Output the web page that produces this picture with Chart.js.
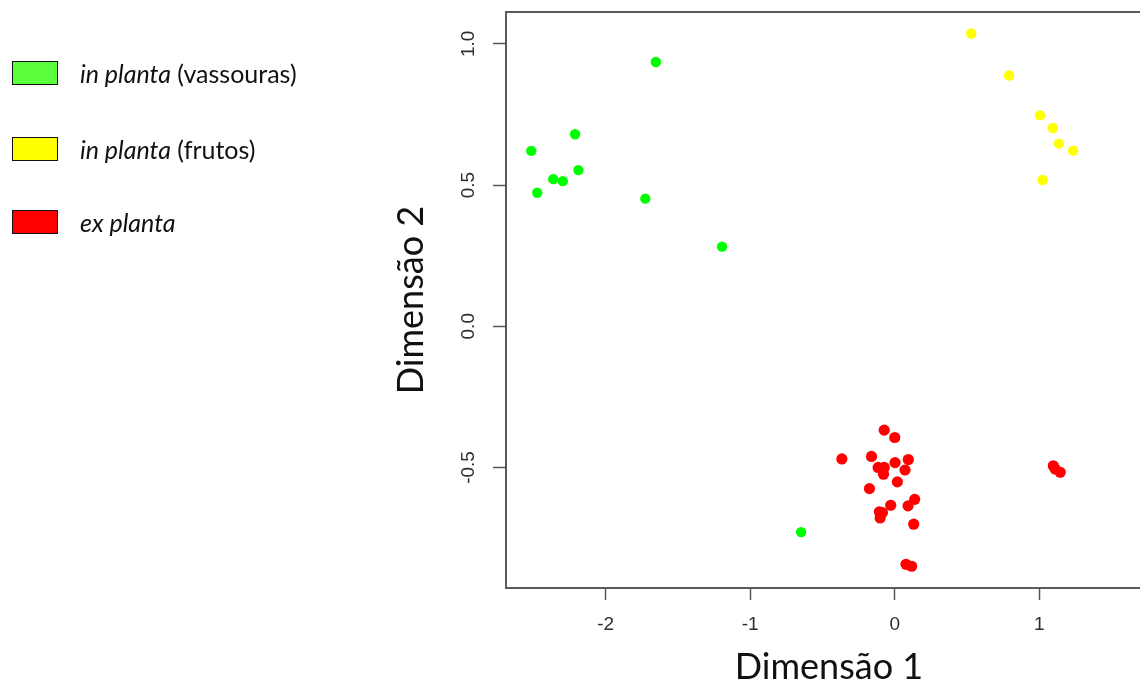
<!DOCTYPE html>
<html>
<head>
<meta charset="utf-8">
<script src="https://cdn.jsdelivr.net/npm/chart.js@4.4.0/dist/chart.umd.min.js"></script>
<style>
  html, body { margin: 0; padding: 0; width: 1140px; height: 685px; overflow: hidden; background: #fff; }
  #wrap { position: absolute; left: 0; top: 0; width: 1158px; height: 685px; }
  .legend { position: absolute; left: 0; top: 0; font-family: Lato, sans-serif; font-size: 25px; color: #111; }
  .legend .row { position: absolute; left: 12px; display: flex; align-items: center; white-space: nowrap; height: 26px; }
  .legend .box { width: 44px; height: 22px; border: 1.5px solid #111; margin-right: 22px; flex: none; }
</style>
</head>
<body>
<div id="wrap"><canvas id="chart" width="1158" height="685"></canvas></div>
<div class="legend">
  <div class="row" style="top:60px"><span class="box" style="background:#5cff3c"></span><span><i>in planta</i> (vassouras)</span></div>
  <div class="row" style="top:136px"><span class="box" style="background:#ffff00"></span><span><i>in planta</i> (frutos)</span></div>
  <div class="row" style="top:209px"><span class="box" style="background:#ff0000"></span><span><i>ex planta</i></span></div>
</div>
<script>
// data
const seriesNames = ['in planta (vassouras)', 'in planta (frutos)', 'ex planta'];

const vassourasX = [-1.653, -2.212, -2.515, -2.189, -2.363, -2.297, -2.474, -1.726, -1.195, -0.648];
const vassourasY = [ 0.936,  0.680,  0.621,  0.553,  0.521,  0.514,  0.473,  0.452,  0.282, -0.729];

const frutosX = [0.529, 0.791, 1.005, 1.094, 1.136, 1.234, 1.023];
const frutosY = [1.037, 0.888, 0.747, 0.702, 0.647, 0.622, 0.518];

const exPlantaX = [-0.073, 0.000, -0.366, -0.161, -0.115, -0.073, -0.078, 0.002, 0.094, 0.071,
                    0.018, -0.175, -0.028, 0.138, 0.092, -0.106, -0.085, -0.101, 0.131, 0.078,
                    0.117, 1.097, 1.110, 1.145];
const exPlantaY = [-0.368, -0.394, -0.470, -0.461, -0.500, -0.500, -0.524, -0.483, -0.472, -0.509,
                   -0.551, -0.575, -0.634, -0.613, -0.636, -0.657, -0.660, -0.679, -0.701, -0.843,
                   -0.850, -0.494, -0.506, -0.517];

const xTitle = 'Dimensão 1';
const yTitle = 'Dimensão 2';

function pts(xs, ys) {
  return xs.map((x, i) => ({ x: x, y: ys[i] }));
}

// box around the plot (right side falls outside the page)
const frame = {
  id: 'frame',
  afterDraw(chart) {
    const a = chart.chartArea, c = chart.ctx;
    c.save();
    c.strokeStyle = '#5a5a5a';
    c.lineWidth = 2;
    c.strokeRect(a.left, a.top, a.right - a.left, a.bottom - a.top);
    c.restore();
  }
};

// rotated y tick labels
const yTickLabels = {
  id: 'yTickLabels',
  afterDraw(chart) {
    const s = chart.scales.y, c = chart.ctx;
    c.save();
    c.font = '19px "Liberation Sans"';
    c.fillStyle = '#2e2e2e';
    c.textAlign = 'center';
    c.textBaseline = 'middle';
    s.ticks.forEach(t => {
      const y = s.getPixelForValue(t.value);
      c.save();
      c.translate(s.right - 37, y);
      c.rotate(-Math.PI / 2);
      c.fillText(t.value.toFixed(1), 0, 0);
      c.restore();
    });
    c.restore();
  }
};

const ctx = document.getElementById('chart').getContext('2d');
new Chart(ctx, {
  type: 'scatter',
  data: {
    datasets: [
      { label: seriesNames[0], data: pts(vassourasX, vassourasY), backgroundColor: '#00ff00', borderWidth: 0, pointRadius: 5.2 },
      { label: seriesNames[1], data: pts(frutosX, frutosY), backgroundColor: '#ffff00', borderWidth: 0, pointRadius: 5.2 },
      { label: seriesNames[2], data: pts(exPlantaX, exPlantaY), backgroundColor: '#ff0000', borderWidth: 0, pointRadius: 5.6 }
    ]
  },
  options: {
    responsive: false,
    animation: false,
    layout: { padding: { left: 393, top: 12, right: 6, bottom: 0 } },
    plugins: { legend: { display: false }, tooltip: { enabled: false } },
    scales: {
      x: {
        type: 'linear',
        min: -2.69,
        max: 1.78,
        afterFit: s => { s.height = 97; },
        ticks: {
          stepSize: 1,
          includeBounds: false,
          padding: 13,
          color: '#2e2e2e',
          font: { family: 'Liberation Sans', size: 19 }
        },
        grid: { drawOnChartArea: false, tickLength: 12, color: '#555', tickWidth: 1.5 },
        border: { display: false },
        title: {
          display: true, text: xTitle, color: '#111',
          font: { family: 'Lato', size: 36, lineHeight: 1 },
          padding: { top: 0, bottom: 0 }
        }
      },
      y: {
        type: 'linear',
        min: -0.927,
        max: 1.113,
        afterFit: s => { s.width = 113; },
        ticks: { stepSize: 0.5, includeBounds: false, display: false },
        grid: { drawOnChartArea: false, tickLength: 13, color: '#555', tickWidth: 1.5 },
        border: { display: false },
        title: {
          display: true, text: yTitle, color: '#111',
          font: { family: 'Lato', size: 36, lineHeight: 1 },
          padding: { top: 0, bottom: 0 }
        }
      }
    }
  },
  plugins: [frame, yTickLabels]
});
</script>
</body>
</html>
